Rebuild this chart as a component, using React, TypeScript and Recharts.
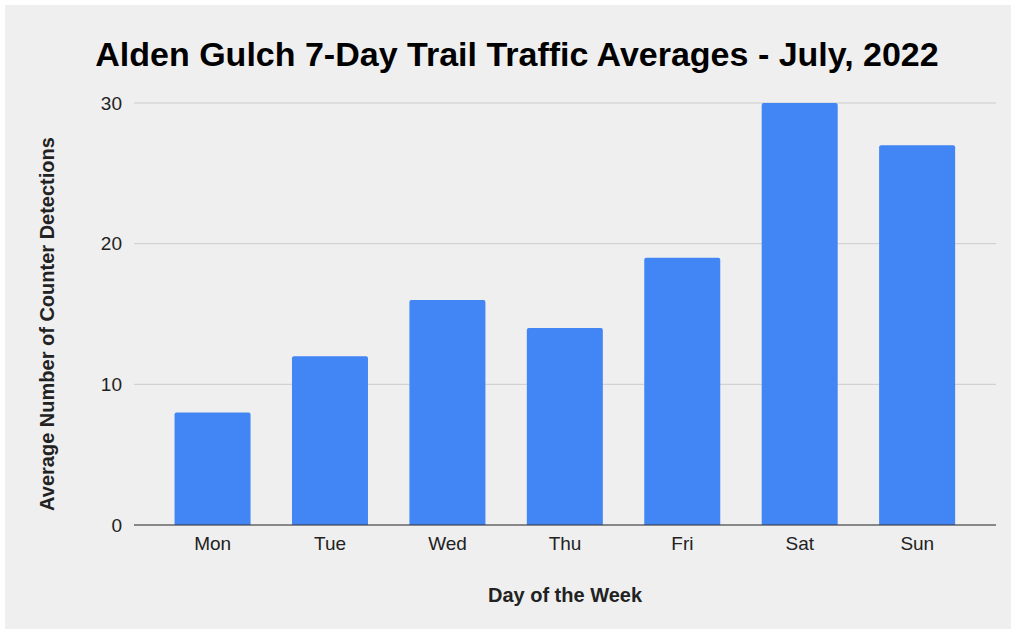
import { BarChart, Bar, XAxis, YAxis, CartesianGrid } from 'recharts';

const days = ['Mon', 'Tue', 'Wed', 'Thu', 'Fri', 'Sat', 'Sun'];
const avgDetections = [8, 12, 16, 14, 19, 30, 27];
const yTicks = [0, 10, 20, 30];

const data = days.map((day, i) => ({ day, value: avgDetections[i] }));

const font = 'Arial, "Liberation Sans", sans-serif';

export default function App() {
  return (
    <div style={{ position: 'absolute', left: 0, top: 0, width: 1016, height: 634, background: '#fff', fontFamily: font }}>
      <div style={{ position: 'absolute', left: 5, top: 5, width: 1006, height: 624, background: '#efefef' }}>
        <BarChart
          width={1006}
          height={624}
          data={data}
          margin={{ top: 98, right: 15, bottom: 74, left: 0 }}
          barCategoryGap="17.5%"
        >
          <CartesianGrid vertical={false} stroke="#cccccc" strokeWidth={1} />
          <XAxis
            dataKey="day"
            height={30}
            padding={{ left: 20, right: 20 }}
            axisLine={{ stroke: '#333', strokeWidth: 1 }}
            tickLine={false}
            tickSize={0}
            tickMargin={12}
            tick={{ fill: '#222', fontSize: 19, fontFamily: font }}
          />
          <YAxis
            width={129}
            domain={[0, 30]}
            ticks={yTicks}
            axisLine={false}
            tickLine={false}
            tickSize={0}
            tickMargin={12}
            tick={{ fill: '#222', fontSize: 19, fontFamily: font }}
          />
          <Bar dataKey="value" fill="#4285f4" radius={[2, 2, 0, 0]} isAnimationActive={false} />
        </BarChart>
        <div style={{ position: 'absolute', left: 0, top: 30, width: 1024, textAlign: 'center', fontSize: 34, fontWeight: 'bold', color: '#000' }}>
          Alden Gulch 7-Day Trail Traffic Averages - July, 2022
        </div>
        <div style={{ position: 'absolute', left: 129, top: 579, width: 862, textAlign: 'center', fontSize: 20, fontWeight: 'bold', color: '#222' }}>
          Day of the Week
        </div>
        <div
          style={{
            position: 'absolute',
            left: 42,
            top: 319,
            width: 500,
            marginLeft: -250,
            textAlign: 'center',
            fontSize: 20,
            fontWeight: 'bold',
            color: '#222',
            lineHeight: '24px',
            marginTop: -12,
            transform: 'rotate(-90deg)',
          }}
        >
          Average Number of Counter Detections
        </div>
      </div>
    </div>
  );
}
